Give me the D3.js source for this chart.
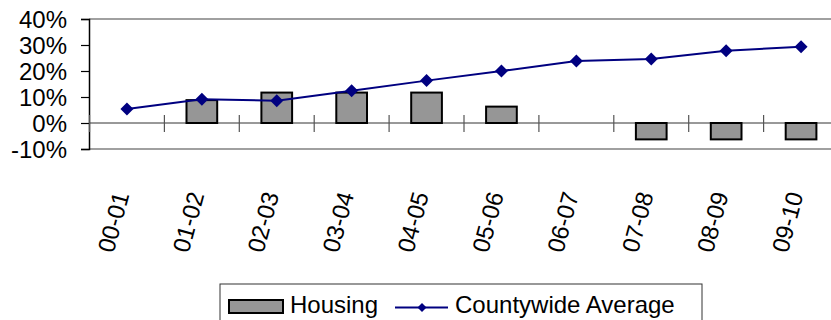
<!DOCTYPE html>
<html>
<head>
<meta charset="utf-8">
<script src="https://cdn.jsdelivr.net/npm/d3@7"></script>
<style>
  html, body { margin: 0; padding: 0; background: #fff; }
  svg { display: block; font-family: Arial, "Liberation Sans", sans-serif; }
</style>
</head>
<body>
<svg id="chart" width="831" height="320"></svg>
<script>
const categories = ["00-01","01-02","02-03","03-04","04-05","05-06","06-07","07-08","08-09","09-10"];
const housing = [0, 8.8, 11.7, 11.7, 11.7, 6.3, 0, -6.3, -6.3, -6.3];
const countywide = [5.4, 9.1, 8.6, 12.4, 16.3, 20.0, 23.8, 24.6, 27.8, 29.3];
const yTicks = [-10, 0, 10, 20, 30, 40];
const seriesNames = ["Housing", "Countywide Average"];

const svg = d3.select("#chart");
const x = d3.scaleBand().domain(categories).range([89.5, 838.5]);
const y = d3.scaleLinear().domain([-10, 40]).range([149, 19]);

const barColor = "#969696";
const lineColor = "#000080";

// diamond symbol: size = half-diagonal squared
const diamondType = {
  draw(ctx, size) {
    const r = Math.sqrt(size);
    ctx.moveTo(0, -r); ctx.lineTo(r, 0); ctx.lineTo(0, r); ctx.lineTo(-r, 0); ctx.closePath();
  }
};

// plot area border (top & bottom)
svg.append("line").attr("x1", 89).attr("x2", 831).attr("y1", y(40)).attr("y2", y(40))
  .attr("stroke", "#a0a0a0").attr("stroke-width", 2);
svg.append("line").attr("x1", 89).attr("x2", 831).attr("y1", y(-10)).attr("y2", y(-10))
  .attr("stroke", "#a0a0a0").attr("stroke-width", 2);

// y axis
const yAxis = d3.axisLeft(y).tickValues(yTicks).tickFormat(d => d + "%").tickSize(8).tickPadding(14);
const ya = svg.append("g").attr("transform", "translate(89,0)").call(yAxis);
ya.select(".domain").attr("stroke", "#000").attr("stroke-width", 1.5);
ya.selectAll(".tick line").attr("stroke", "#000").attr("stroke-width", 1.2);
ya.selectAll(".tick text").attr("font-size", 24).attr("fill", "#000")
  .attr("font-family", "Arial, 'Liberation Sans', sans-serif").attr("dy", "0.35em");

// zero line with category ticks
svg.append("line").attr("x1", 89).attr("x2", 831).attr("y1", y(0)).attr("y2", y(0))
  .attr("stroke", "#333").attr("stroke-width", 1);
const boundaries = categories.map(c => x(c)).concat([x.range()[1]]);
svg.append("g").selectAll("line").data(boundaries).join("line")
  .attr("x1", d => d).attr("x2", d => d)
  .attr("y1", y(0) - 8).attr("y2", y(0) + 9)
  .attr("stroke", "#555").attr("stroke-width", 1.2);

// bars
const bw = x.bandwidth() * 0.41;
svg.append("g").selectAll("rect")
  .data(categories.map((c, i) => ({c, v: housing[i]})).filter(d => d.v !== 0))
  .join("rect")
  .attr("x", d => x(d.c) + x.bandwidth() / 2 - bw / 2)
  .attr("y", d => y(Math.max(0, d.v)))
  .attr("width", bw)
  .attr("height", d => Math.abs(y(d.v) - y(0)))
  .attr("fill", barColor).attr("stroke", "#000").attr("stroke-width", 2);

// line
const pts = categories.map((c, i) => [x(c) + x.bandwidth() / 2, y(countywide[i])]);
svg.append("path").attr("d", d3.line()(pts))
  .attr("fill", "none").attr("stroke", lineColor).attr("stroke-width", 2);
const diamond = d3.symbol().type(diamondType).size(6.5 * 6.5);
svg.append("g").selectAll("path").data(pts).join("path")
  .attr("d", diamond)
  .attr("transform", d => `translate(${d[0]},${d[1]})`)
  .attr("fill", lineColor);

// x labels
svg.append("g").selectAll("text").data(categories).join("text")
  .attr("transform", c => `translate(${x(c) + x.bandwidth() / 2 + 2.5},194.5) rotate(-75)`)
  .attr("text-anchor", "end")
  .attr("font-size", 24)
  .attr("fill", "#000")
  .text(c => c);

// legend
const lg = svg.append("g");
lg.append("rect").attr("x", 220).attr("y", 284).attr("width", 482).attr("height", 50)
  .attr("fill", "#fff").attr("stroke", "#333").attr("stroke-width", 1);
lg.append("rect").attr("x", 229).attr("y", 300).attr("width", 54).attr("height", 13)
  .attr("fill", barColor).attr("stroke", "#000").attr("stroke-width", 2);
lg.append("text").attr("x", 290).attr("y", 313).attr("font-size", 24).attr("fill", "#000").text(seriesNames[0]);
lg.append("line").attr("x1", 395).attr("x2", 448).attr("y1", 307.5).attr("y2", 307.5)
  .attr("stroke", lineColor).attr("stroke-width", 2);
lg.append("path").attr("d", d3.symbol().type(diamondType).size(4.5 * 4.5))
  .attr("transform", "translate(422,307.5)").attr("fill", lineColor);
lg.append("text").attr("x", 455).attr("y", 313).attr("font-size", 24).attr("fill", "#000").text(seriesNames[1]);
</script>
</body>
</html>
